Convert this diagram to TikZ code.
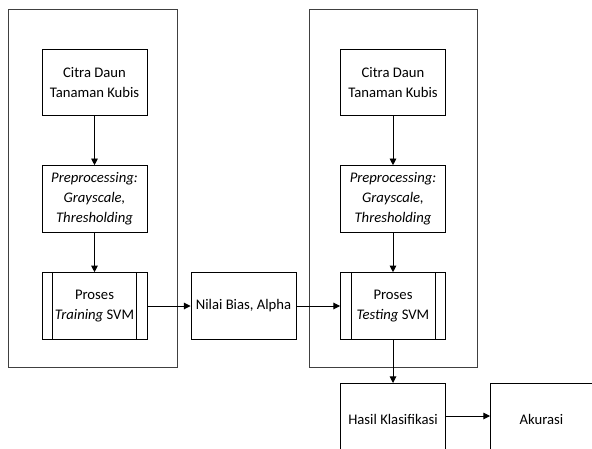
\documentclass[tikz,border=0pt]{standalone}
\usepackage{fontspec}
\setmainfont{Carlito}
\usetikzlibrary{arrows.meta}
\begin{document}
\begin{tikzpicture}[x=0.75pt,y=-0.75pt,
  box/.style={draw=black, line width=0.7pt, minimum width=78.75pt, minimum height=50pt, align=center, inner sep=1pt, font=\fontsize{11}{15}\selectfont},
  outer/.style={draw=black!75, line width=0.7pt},
  arr/.style={-{Triangle[length=5pt,width=5pt]}, line width=0.7pt}]
\useasboundingbox (0,0) rectangle (592,449);
\clip (0,0) rectangle (592,449);
% outer frames
\draw[outer] (8,9) rectangle (177,367);
\draw[outer] (309,9) rectangle (477,367);
% left column
\node[box] (c1) at (94.5,82.5) {Citra Daun\\Tanaman Kubis};
\node[box] (p1) at (94.5,199) {\textit{Preprocessing:}\\\textit{Grayscale,}\\\textit{Thresholding}};
\node[box] (t1) at (94.5,306) {Proses\\\textit{Training} SVM};
% middle
\node[box] (nb) at (243.5,306) {Nilai Bias, Alpha};
% right column
\node[box] (c2) at (393,82.5) {Citra Daun\\Tanaman Kubis};
\node[box] (p2) at (393,199) {\textit{Preprocessing:}\\\textit{Grayscale,}\\\textit{Thresholding}};
\node[box] (t2) at (393,306) {Proses\\\textit{Testing} SVM};
\node[box, minimum height=54pt, anchor=north] (hk) at (393,383) {Hasil Klasifikasi};
\node[box, minimum height=54pt, minimum width=76.5pt, anchor=north west] (ak) at (490,383) {Akurasi};
% predefined process inner lines
\foreach \n in {t1,t2}{
  \draw[line width=0.7pt] ([xshift=8.25pt]\n.north west) -- ([xshift=8.25pt]\n.south west);
  \draw[line width=0.7pt] ([xshift=-8.25pt]\n.north east) -- ([xshift=-8.25pt]\n.south east);
}
% arrows
\draw[arr] (c1) -- (p1);
\draw[arr] (p1) -- (t1);
\draw[arr] (t1) -- (nb);
\draw[arr] (nb) -- (t2);
\draw[arr] (c2) -- (p2);
\draw[arr] (p2) -- (t2);
\draw[arr] (t2) -- (hk);
\draw[arr] (hk.east |- 0,416) -- (ak.west |- 0,416);
\end{tikzpicture}
\end{document}
